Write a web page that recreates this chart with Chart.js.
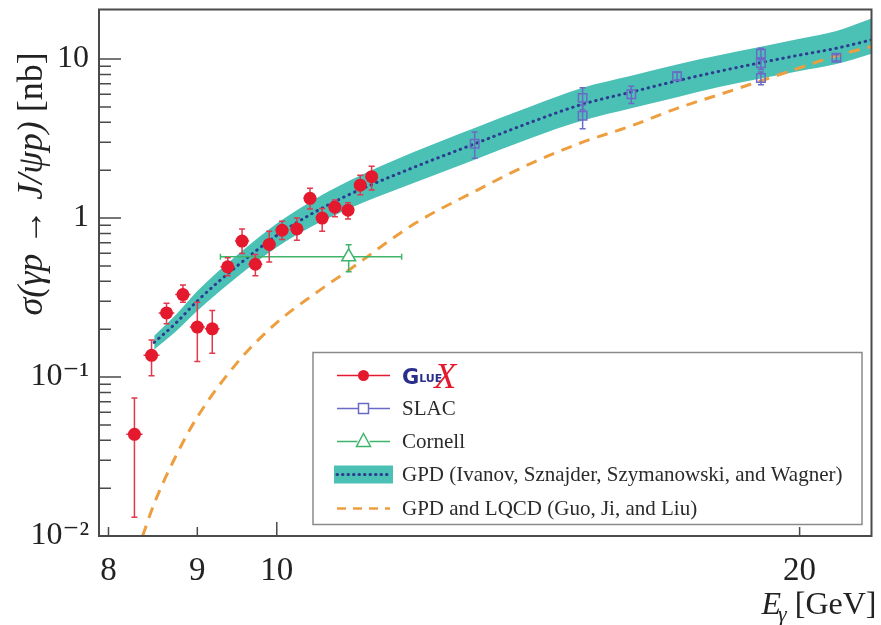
<!DOCTYPE html>
<html>
<head>
<meta charset="utf-8">
<script src="https://cdn.jsdelivr.net/npm/chart.js@4.4.1/dist/chart.umd.min.js"></script>
<style>
  html, body { margin: 0; padding: 0; background: #fff; }
  #wrap { width: 881px; height: 625px; }
</style>
</head>
<body>
<div id="wrap"><canvas id="chart"></canvas></div>
<script>
// GlueX points (E in GeV, sigma in nb, error bar ends)
const glueE     = [8.28, 8.47, 8.64, 8.83, 9.00, 9.18, 9.37, 9.55, 9.72, 9.90, 10.07, 10.27, 10.45, 10.62, 10.80, 10.99, 11.17, 11.34];
const glueSigma = [0.0436, 0.137, 0.253, 0.330, 0.206, 0.201, 0.493, 0.716, 0.512, 0.682, 0.838, 0.854, 1.33, 1.00, 1.17, 1.12, 1.61, 1.82];
const glueHi    = [0.0738, 0.171, 0.291, 0.379, 0.295, 0.262, 0.563, 0.854, 0.590, 0.826, 0.953, 1.00, 1.54, 1.15, 1.30, 1.25, 1.86, 2.12];
const glueLo    = [0.0131, 0.102, 0.216, 0.295, 0.125, 0.141, 0.433, 0.599, 0.433, 0.530, 0.733, 0.726, 1.14, 0.826, 1.02, 0.986, 1.40, 1.50];

// SLAC
const slacE     = [13.0, 15.0, 15.0, 16.0, 17.0, 19.0, 19.0, 19.0, 21.0];
const slacSigma = [2.93, 5.7, 4.4, 6.0, 7.8, 10.8, 9.4, 7.6, 10.2];
const slacErr   = [0.55, 0.9, 0.75, 0.75, 0.45, 0.9, 0.8, 0.7, 0.45];

// Cornell
const cornellE     = [11.0];
const cornellSigma = [0.57];
const cornellErr   = [0.11];
const cornellELo   = [9.28];
const cornellEHi   = [11.8];

// GPD band (Ivanov, Sznajder, Szymanowski, Wagner)
const bandE   = [8.5, 8.75, 9, 9.5, 10, 10.5, 11, 12, 13, 14, 15, 16, 17, 18, 19, 20, 21, 22];
const bandMid = [0.165, 0.219, 0.301, 0.505, 0.777, 1.08, 1.40, 2.09, 2.93, 4.0, 5.2, 6.2, 7.3, 8.4, 9.5, 10.6, 11.7, 13.2];
const bandLo  = [0.149, 0.194, 0.261, 0.431, 0.654, 0.896, 1.145, 1.67, 2.33, 3.18, 4.1, 4.9, 5.76, 6.7, 7.55, 8.4, 9.3, 10.8];
const bandHi  = [0.182, 0.247, 0.347, 0.591, 0.923, 1.30, 1.71, 2.61, 3.69, 5.03, 6.6, 7.85, 9.25, 10.6, 11.95, 13.4, 15.0, 18.0];

// GPD and LQCD (Guo, Ji, Liu)
const lqcdE     = [8.37, 8.5, 8.75, 9, 9.5, 10, 10.5, 11, 12, 13, 14, 15, 16, 17, 18, 19, 20, 21, 22];
const lqcdSigma = [0.010, 0.016, 0.032, 0.056, 0.125, 0.22, 0.33, 0.47, 0.92, 1.47, 2.2, 3.0, 3.8, 4.9, 6.0, 7.3, 8.8, 10.5, 12.0];

// axes
const xTickValues = [8, 9, 10, 20];
const xTickLabels = ['8', '9', '10', '20'];
const yTickValues = [0.01, 0.1, 1, 10];
const yTickLabels = ['10\u207B\u00B2', '10\u207B\u00B9', '1', '10'];
const yMinorTicks = [0.02, 0.03, 0.04, 0.05, 0.06, 0.07, 0.08, 0.09,
                     0.2, 0.3, 0.4, 0.5, 0.6, 0.7, 0.8, 0.9,
                     2, 3, 4, 5, 6, 7, 8, 9];

const legendLabels = ['GlueX', 'SLAC', 'Cornell',
  'GPD (Ivanov, Sznajder, Szymanowski, and Wagner)',
  'GPD and LQCD (Guo, Ji, and Liu)'];

const SERIF = "'Liberation Serif', 'DejaVu Serif', serif";
const AXIS = '#4a4a4a';
const RED = '#e5192d';
const BLUE = '#6a6ac6';
const GREEN = '#3fb56c';
const TEAL = '#4bc1b6';
const NAVY = '#2c3c8e';
const ORANGE = '#ee9e3e';

const pts = (xs, ys) => xs.map((x, i) => ({ x, y: ys[i] }));

const errorBars = {
  id: 'errorBars',
  beforeDatasetDraw(chart, args) {
    const ds = chart.data.datasets[args.index];
    const eb = ds.errorBars;
    if (!eb) return;
    const { ctx, chartArea: a, scales: { x, y } } = chart;
    ctx.save();
    ctx.beginPath();
    ctx.rect(a.left, a.top, a.right - a.left, a.bottom - a.top);
    ctx.clip();
    ctx.strokeStyle = eb.color;
    ctx.lineWidth = 1.5;
    ds.data.forEach((p, i) => {
      const px = x.getPixelForValue(p.x);
      const py = y.getPixelForValue(p.y);
      const top = y.getPixelForValue(eb.hi[i]);
      const bot = y.getPixelForValue(eb.lo[i]);
      ctx.beginPath();
      ctx.moveTo(px, top); ctx.lineTo(px, bot);
      ctx.moveTo(px - 3, top); ctx.lineTo(px + 3, top);
      ctx.moveTo(px - 3, bot); ctx.lineTo(px + 3, bot);
      if (eb.xLo) {
        const l = x.getPixelForValue(eb.xLo[i]);
        const r = x.getPixelForValue(eb.xHi[i]);
        ctx.moveTo(l, py); ctx.lineTo(r, py);
        ctx.moveTo(l, py - 3); ctx.lineTo(l, py + 3);
        ctx.moveTo(r, py - 3); ctx.lineTo(r, py + 3);
      } else if (eb.xHalf) {
        ctx.moveTo(x.getPixelForValue(p.x - eb.xHalf), py);
        ctx.lineTo(x.getPixelForValue(p.x + eb.xHalf), py);
      }
      ctx.stroke();
    });
    ctx.restore();
  }
};

const frameTicks = {
  id: 'frameTicks',
  afterDraw(chart) {
    const { ctx, chartArea: a, scales: { x, y } } = chart;
    ctx.save();
    ctx.strokeStyle = AXIS;
    ctx.lineWidth = 2;
    ctx.strokeRect(a.left, a.top, a.right - a.left, a.bottom - a.top);
    ctx.lineWidth = 1.5;
    ctx.beginPath();
    yTickValues.forEach(v => {
      const py = y.getPixelForValue(v);
      ctx.moveTo(a.left, py); ctx.lineTo(a.left + 22, py);
    });
    yMinorTicks.forEach(v => {
      const py = y.getPixelForValue(v);
      ctx.moveTo(a.left, py); ctx.lineTo(a.left + 12, py);
    });
    xTickValues.forEach(v => {
      const px = x.getPixelForValue(v);
      ctx.moveTo(px, a.bottom); ctx.lineTo(px, a.bottom - (v === 10 ? 14 : 9));
    });
    ctx.stroke();
    ctx.restore();
  }
};

const axisTitles = {
  id: 'axisTitles',
  afterDraw(chart) {
    const { ctx, chartArea: a } = chart;
    ctx.save();
    ctx.fillStyle = '#222';
    ctx.textBaseline = 'alphabetic';
    // y title, rotated
    const it = 'italic 36px ' + SERIF;
    const up = '36px ' + SERIF;
    const partA = '\u03C3(\u03B3p \u2192 J/\u03C8p)';
    const partB = ' [nb]';
    ctx.font = it; const wA = ctx.measureText(partA).width;
    ctx.font = up; const wB = ctx.measureText(partB).width;
    ctx.translate(42, 184);
    ctx.rotate(-Math.PI / 2);
    const start = -(wA + wB) / 2;
    ctx.font = it; ctx.fillText(partA, start, 0);
    ctx.font = up; ctx.fillText(partB, start + wA, 0);
    ctx.setTransform(1, 0, 0, 1, 0, 0);
    // x title, right aligned
    ctx.font = '32px ' + SERIF;
    const tail = ' [GeV]';
    const wT = ctx.measureText(tail).width;
    ctx.font = 'italic 22px ' + SERIF;
    const wG = ctx.measureText('\u03B3').width;
    ctx.font = 'italic 32px ' + SERIF;
    const wE = ctx.measureText('E').width;
    const right = a.right + 8;
    let cx = right - wT - wG - wE;
    ctx.fillText('E', cx, 614); cx += wE;
    ctx.font = 'italic 22px ' + SERIF;
    ctx.fillText('\u03B3', cx - 3, 621); cx += wG;
    ctx.font = '32px ' + SERIF;
    ctx.fillText(tail, cx - 3, 614);
    ctx.restore();
  }
};

const legendBox = {
  id: 'legendBox',
  afterDraw(chart) {
    const { ctx, chartArea: a } = chart;
    const L = a.left + 214, T = a.top + 343, W = 549, H = 172;
    ctx.save();
    ctx.fillStyle = '#fff';
    ctx.fillRect(L, T, W, H);
    ctx.strokeStyle = '#8a8a8a';
    ctx.lineWidth = 1.5;
    ctx.strokeRect(L, T, W, H);
    const rows = [23, 56, 89, 122, 156].map(d => T + d);
    const s0 = L + 24, s1 = L + 77, sm = (s0 + s1) / 2, tx = L + 89;
    ctx.lineWidth = 1.5;
    // GlueX
    ctx.strokeStyle = RED;
    ctx.beginPath(); ctx.moveTo(s0, rows[0]); ctx.lineTo(s1, rows[0]); ctx.stroke();
    ctx.fillStyle = RED;
    ctx.beginPath(); ctx.arc(sm, rows[0], 5.5, 0, Math.PI * 2); ctx.fill();
    // SLAC
    ctx.strokeStyle = BLUE;
    ctx.beginPath(); ctx.moveTo(s0, rows[1]); ctx.lineTo(sm - 5, rows[1]);
    ctx.moveTo(sm + 5, rows[1]); ctx.lineTo(s1, rows[1]); ctx.stroke();
    ctx.strokeRect(sm - 5, rows[1] - 5, 10, 10);
    // Cornell
    ctx.strokeStyle = GREEN;
    ctx.beginPath(); ctx.moveTo(s0, rows[2]); ctx.lineTo(sm - 6, rows[2]);
    ctx.moveTo(sm + 6, rows[2]); ctx.lineTo(s1, rows[2]); ctx.stroke();
    ctx.beginPath(); ctx.moveTo(sm, rows[2] - 8); ctx.lineTo(sm + 7, rows[2] + 5); ctx.lineTo(sm - 7, rows[2] + 5); ctx.closePath(); ctx.stroke();
    // GPD band
    ctx.fillStyle = TEAL;
    ctx.fillRect(s0 - 3, rows[3] - 9, s1 - s0 + 6, 18);
    ctx.strokeStyle = NAVY; ctx.lineWidth = 3; ctx.lineCap = 'round';
    ctx.setLineDash([0.5, 5]);
    ctx.beginPath(); ctx.moveTo(s0, rows[3]); ctx.lineTo(s1, rows[3]); ctx.stroke();
    // LQCD
    ctx.lineCap = 'butt';
    ctx.strokeStyle = ORANGE; ctx.lineWidth = 2.5; ctx.setLineDash([9, 7]);
    ctx.beginPath(); ctx.moveTo(s0, rows[4]); ctx.lineTo(s1, rows[4]); ctx.stroke();
    ctx.setLineDash([]);
    // texts
    ctx.textBaseline = 'middle';
    ctx.fillStyle = '#2a2a2a';
    ctx.font = '21px ' + SERIF;
    for (let i = 1; i < legendLabels.length; i++) ctx.fillText(legendLabels[i], tx, rows[i] + 1);
    // GlueX logo as text
    ctx.textBaseline = 'alphabetic';
    ctx.fillStyle = '#2b2f8c';
    ctx.font = "bold 21px 'DejaVu Sans', sans-serif";
    ctx.fillText('G', tx, rows[0] + 8);
    let gx = tx + ctx.measureText('G').width;
    ctx.font = "bold 11px 'DejaVu Sans', sans-serif";
    ctx.fillText('LUE', gx, rows[0] + 6);
    gx += ctx.measureText('LUE').width;
    ctx.fillStyle = RED;
    ctx.font = 'italic 36px ' + SERIF;
    ctx.fillText('X', gx - 8, rows[0] + 12);
    ctx.restore();
  }
};

new Chart(document.getElementById('chart'), {
  type: 'line',
  data: {
    datasets: [
      {
        label: 'band low',
        data: pts(bandE, bandLo),
        borderColor: 'rgba(0,0,0,0)',
        borderWidth: 0,
        pointRadius: 0,
        fill: false,
        cubicInterpolationMode: 'monotone',
        order: 6
      },
      {
        label: legendLabels[3],
        data: pts(bandE, bandHi),
        borderColor: 'rgba(0,0,0,0)',
        backgroundColor: TEAL,
        borderWidth: 0,
        pointRadius: 0,
        fill: '-1',
        cubicInterpolationMode: 'monotone',
        order: 5
      },
      {
        label: 'GPD central',
        data: pts(bandE, bandMid),
        borderColor: NAVY,
        borderWidth: 3,
        borderDash: [0.5, 5.5],
        borderCapStyle: 'round',
        pointRadius: 0,
        fill: false,
        cubicInterpolationMode: 'monotone',
        order: 4
      },
      {
        label: legendLabels[4],
        data: pts(lqcdE, lqcdSigma),
        borderColor: ORANGE,
        borderWidth: 3,
        borderDash: [11, 8],
        pointRadius: 0,
        fill: false,
        cubicInterpolationMode: 'monotone',
        order: 4
      },
      {
        label: legendLabels[2],
        data: pts(cornellE, cornellSigma),
        showLine: false,
        pointStyle: 'triangle',
        pointRadius: 8,
        pointBorderWidth: 1.5,
        pointBorderColor: GREEN,
        pointBackgroundColor: '#fff',
        errorBars: {
          color: GREEN,
          hi: cornellSigma.map((v, i) => v + cornellErr[i]),
          lo: cornellSigma.map((v, i) => v - cornellErr[i]),
          xLo: cornellELo, xHi: cornellEHi
        },
        order: 2
      },
      {
        label: legendLabels[1],
        data: pts(slacE, slacSigma),
        showLine: false,
        pointStyle: 'rect',
        pointRadius: 6,
        pointBorderWidth: 1.5,
        pointBorderColor: BLUE,
        pointBackgroundColor: 'rgba(255,255,255,0)',
        errorBars: {
          color: BLUE,
          hi: slacSigma.map((v, i) => v + slacErr[i]),
          lo: slacSigma.map((v, i) => v - slacErr[i])
        },
        order: 1
      },
      {
        label: legendLabels[0],
        data: pts(glueE, glueSigma),
        showLine: false,
        pointStyle: 'circle',
        pointRadius: 6.5,
        pointBorderWidth: 0,
        pointBackgroundColor: RED,
        errorBars: { color: '#e0384c', hi: glueHi, lo: glueLo, xHalf: 0.09 },
        order: 0
      }
    ]
  },
  options: {
    responsive: true,
    maintainAspectRatio: false,
    animation: false,
    layout: { padding: { top: 5, right: 7, left: 0, bottom: 0 } },
    plugins: {
      legend: { display: false },
      tooltip: { enabled: false }
    },
    scales: {
      x: {
        type: 'logarithmic',
        min: 7.9,
        max: 22,
        afterBuildTicks: (s) => { s.ticks = xTickValues.map(v => ({ value: v })); },
        afterFit: (s) => { s.height = 89; s.paddingLeft = 0; s.paddingRight = 0; },
        grid: { display: false, drawTicks: false },
        border: { display: false },
        ticks: {
          autoSkip: false,
          maxRotation: 0,
          padding: 16,
          color: '#222',
          font: { family: SERIF, size: 33 },
          callback: (v, i) => xTickLabels[i]
        }
      },
      y: {
        type: 'logarithmic',
        min: 0.01,
        max: 20.5,
        afterBuildTicks: (s) => { s.ticks = yTickValues.map(v => ({ value: v })); },
        afterFit: (s) => { s.width = 99; s.paddingTop = 0; s.paddingBottom = 0; },
        grid: { display: false, drawTicks: false },
        border: { display: false },
        ticks: {
          autoSkip: false,
          padding: 10,
          color: '#222',
          font: { family: SERIF, size: 32 },
          callback: (v, i) => yTickLabels[i]
        }
      }
    }
  },
  plugins: [errorBars, frameTicks, axisTitles, legendBox]
});
</script>
</body>
</html>
